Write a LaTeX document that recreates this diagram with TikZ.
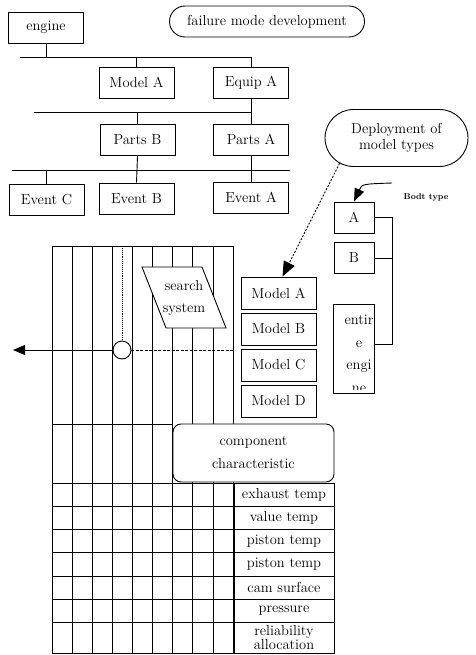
\documentclass[tikz,border=0pt]{standalone}
\usepackage{tikz}
\usetikzlibrary{arrows.meta,shapes.misc}
\tikzset{every node/.style={font=\fontsize{14.5}{17}\selectfont}}
\tikzset{
  treebox/.style={draw, minimum width=75pt, minimum height=31pt, inner sep=2pt},
  pill/.style={draw, rounded rectangle, inner sep=2pt},
  listbox/.style={draw, minimum width=75pt, minimum height=32pt, inner sep=2pt},
  typebox/.style={draw, minimum width=40pt, minimum height=31pt, inner sep=2pt},
  cellbox/.style={draw, minimum width=100pt, minimum height=23.3pt, inner sep=0pt},
  twoline/.style={align=center, font=\fontsize{14.5}{22.5}\selectfont},
}

\begin{document}
\begin{tikzpicture}[x=1pt, y=-1pt, line width=0.9pt]
  \useasboundingbox (0,0) rectangle (475,655);

  % Failure mode tree.
  \node[treebox] (engine) at (46,27.5) {engine};
  \node[pill, minimum width=199pt, minimum height=31pt] (failure) at (267,21.5)
    {failure mode development};
  \node[treebox] (modelA) at (136.5,82.5) {Model A};
  \node[treebox] (equipA) at (251,82.5) {Equip A};
  \node[treebox] (partsB) at (137.5,140) {Parts B};
  \node[treebox] (partsA) at (251,139.5) {Parts A};
  \node[treebox] (eventC) at (46.5,199.5) {Event C};
  \node[treebox] (eventB) at (136.5,198.5) {Event B};
  \node[treebox] (eventA) at (251,197.5) {Event A};

  % Bus lines of the tree.
  \coordinate (busAw) at (20,57);
  \coordinate (busBw) at (34,112);
  \coordinate (busCw) at (12,170);
  \coordinate (busCe) at (290,170);
  \draw (busAw) -| (equipA.north);
  \draw (engine.south) -- (engine.south |- busAw);
  \draw (modelA.north) -- (modelA.north |- busAw);
  \draw (busBw) -- (busBw -| equipA.south);
  \draw (equipA.south) -- (partsA.north);
  \draw (partsB.north) -- (partsB.north |- busBw);
  \draw (busCw) -- (busCe);
  \draw (partsB.south) -- (eventB.north);
  \draw (partsA.south) -- (eventA.north);
  \draw (eventC.north) -- (eventC.north |- busCw);

  % Model types.
  \node[pill, minimum width=147pt, minimum height=57pt, align=center,
    font=\fontsize{14.5}{16}\selectfont] (deploy) at (396.5,138)
    {Deployment of\\model types};
  \foreach \m [count=\k from 0] in {A,B,C,D}
    \node[listbox] (list\m) at (278.5,{293+36*\k}) {Model \m};
  \draw[dash pattern=on 2pt off 1.5pt, -{Triangle[length=15pt,width=12pt]}]
    (deploy.204) -- ([xshift=4pt]listA.north);

  % Body types.
  \node[typebox] (bodyA) at (354,217.5) {A};
  \node[typebox] (bodyB) at (354,258) {B};
  \node[draw, minimum width=41pt, minimum height=89pt] (entire) at (353.5,348.5) {};
  \begin{scope}
    \clip (entire.north west) rectangle ([yshift=4pt]entire.south east);
    \node[twoline] (entiretext) at (359,354) {entir\\e\\engi\\ne};
  \end{scope}
  \coordinate (rail) at (392,217.5);
  \draw (bodyA.east) -- (rail) |- ([yshift=4pt]entire.east);
  \draw (bodyB.east) -- (bodyB.east -| rail);
  \coordinate (bodtfrom) at (392,183);
  \node[font=\fontsize{8.5}{10}\selectfont\bfseries] (bodt) at (426,197) {Bodt type};
  \draw[-{Triangle[length=13pt,width=10pt]}]
    (bodtfrom) .. controls (362,184) .. (bodyA.north);

  % Search grid.
  \foreach \i in {0,...,9}
    \draw ({52+20.12*\i},246) -- ({52+20.12*\i},424);
  \draw (52,246) -- (233,246);
  \draw (52,424) -- (173,424);
  \foreach \i in {0,...,6}
    \draw ({52+20.12*\i},424) -- ({52+20.12*\i},653);
  \foreach \i in {7,8,9}
    \draw ({52+20.12*\i},482) -- ({52+20.12*\i},653);
  \foreach \k in {0,...,6}
    \draw (52,{483+23.3*\k}) -- (234,{483+23.3*\k});
  \draw (52,653) -- (234,653);

  % Search system.
  \draw[fill=white] (142,267) -- (202,267) -- (226,328) -- (166,328) -- cycle;
  \node[twoline] (search) at (184,298) {search\\system};

  % Probe point and its lines.
  \coordinate (gridtop) at (122,246);
  \coordinate (probeout) at (13,350);
  \coordinate (probeend) at (233,350);
  \draw[densely dotted] (gridtop) -- (122,341);
  \node[circle, draw, fill=white, minimum size=18pt, inner sep=0pt] (probe) at (122,350) {};
  \draw[-{Triangle[length=12pt,width=10pt]}] (probe.west) -- (probeout);
  \draw[dash pattern=on 3pt off 1.5pt] (probe.east) -- (probeend);

  % Component characteristic.
  \node[draw, fill=white, rounded corners=8pt, minimum width=161pt, minimum height=58pt,
    align=center, font=\fontsize{14.5}{23}\selectfont] (component) at (253.5,453)
    {component\\characteristic};
  \foreach \t [count=\k from 0] in {exhaust temp, value temp, piston temp,
      piston temp, cam surface, pressure}
    \node[cellbox] (cell\k) at (284,{494.65+23.3*\k}) {\t};
  \node[cellbox, minimum height=30.2pt, align=center,
    font=\fontsize{14.5}{13}\selectfont] (cell6) at (284,637.9)
    {reliability\\allocation};

\end{tikzpicture}
\end{document}
